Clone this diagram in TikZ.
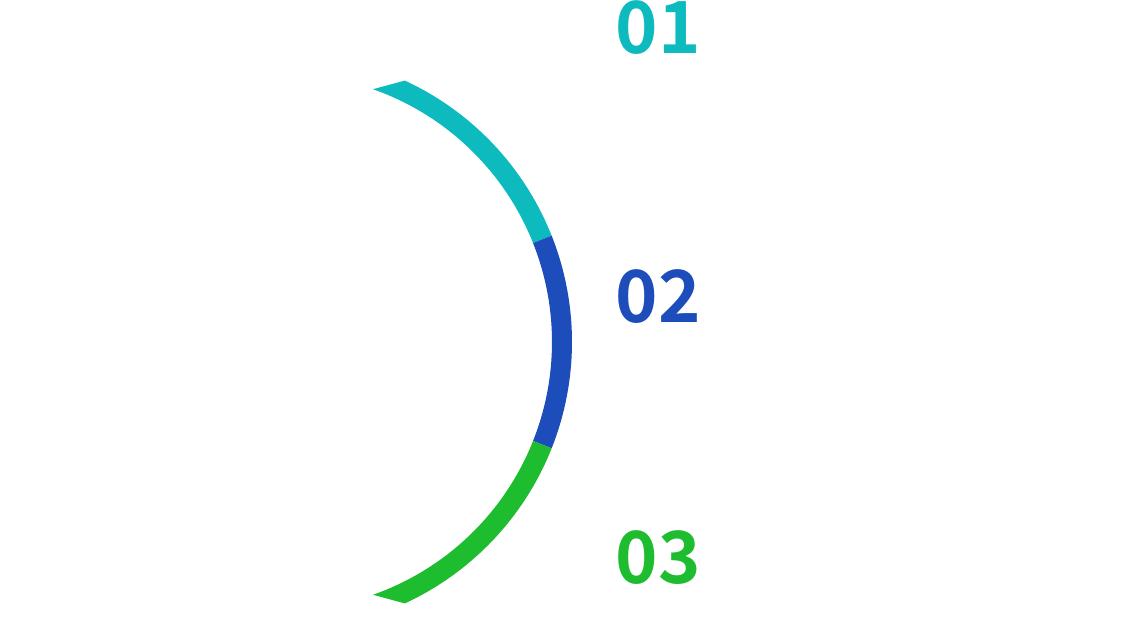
\documentclass[tikz,border=0pt]{standalone}
\usepackage{fontspec}
\newfontfamily\numfont{Noto Sans CJK SC}[BoldFont=* Bold]
\definecolor{cOne}{RGB}{13,187,191}
\definecolor{cTwo}{RGB}{28,77,186}
\definecolor{cThree}{RGB}{29,189,47}
\tikzset{
  numlabel/.style={anchor=base west, inner sep=0pt, font=\numfont\bfseries\fontsize{72pt}{72pt}\selectfont},
}
\begin{document}
\begin{tikzpicture}[x=1pt,y=1pt]
\useasboundingbox (0,0) rectangle (1135,644);
\begin{scope}[shift={(284pt,302pt)}]
  \fill[cOne] (65.2:288pt) arc[start angle=65.2,end angle=21.67,radius=288pt] -- (21.67:268pt) arc[start angle=21.67,end angle=70.6,radius=268pt] -- cycle;
  \fill[cTwo] (21.67:288pt) arc[start angle=21.67,end angle=-21.67,radius=288pt] -- (-21.67:268pt) arc[start angle=-21.67,end angle=21.67,radius=268pt] -- cycle;
  \fill[cThree] (-21.67:288pt) arc[start angle=-21.67,end angle=-65.2,radius=288pt] -- (-70.6:268pt) arc[start angle=-70.6,end angle=-21.67,radius=268pt] -- cycle;
\end{scope}
\node[numlabel, text=cOne] (n1) at (615.5,590) {01};
\node[numlabel, text=cTwo] (n2) at (615.5,321) {02};
\node[numlabel, text=cThree] (n3) at (615.5,60) {03};
\end{tikzpicture}
\end{document}
